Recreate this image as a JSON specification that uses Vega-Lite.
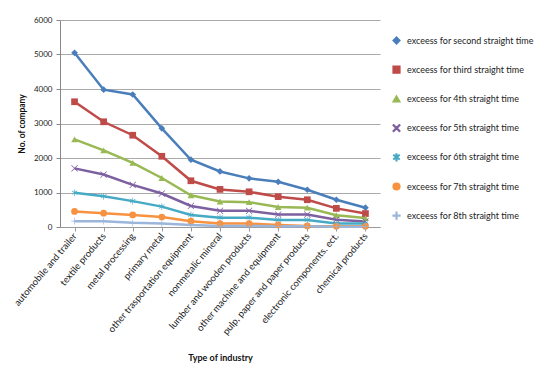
{
  "$schema": "https://vega.github.io/schema/vega-lite/v6.json",
  "width": 320,
  "height": 207,
  "autosize": {"type": "none"},
  "padding": {"left": 60, "top": 20, "right": 166, "bottom": 147},
  "background": "white",
  "config": {
    "font": "Lato",
    "view": {"stroke": null},
    "axis": {"labelFont": "Lato", "titleFont": "Lato", "labelColor": "#222", "titleColor": "#111"}
  },
  "data": {
    "values": [
      {"industry": "automobile and trailer", "series": "exceess for second straight time", "count": 5050},
      {"industry": "textile products", "series": "exceess for second straight time", "count": 3980},
      {"industry": "metal processing", "series": "exceess for second straight time", "count": 3840},
      {"industry": "primary metal", "series": "exceess for second straight time", "count": 2860},
      {"industry": "other trasportation equipment", "series": "exceess for second straight time", "count": 1950},
      {"industry": "nonmetalic mineral", "series": "exceess for second straight time", "count": 1610},
      {"industry": "lumber and wooden products", "series": "exceess for second straight time", "count": 1410},
      {"industry": "other machine and equipment", "series": "exceess for second straight time", "count": 1310},
      {"industry": "pulp, paper and paper products", "series": "exceess for second straight time", "count": 1080},
      {"industry": "electronic components. ect.", "series": "exceess for second straight time", "count": 790},
      {"industry": "chemical products", "series": "exceess for second straight time", "count": 560},

      {"industry": "automobile and trailer", "series": "exceess for third straight time", "count": 3630},
      {"industry": "textile products", "series": "exceess for third straight time", "count": 3050},
      {"industry": "metal processing", "series": "exceess for third straight time", "count": 2660},
      {"industry": "primary metal", "series": "exceess for third straight time", "count": 2050},
      {"industry": "other trasportation equipment", "series": "exceess for third straight time", "count": 1340},
      {"industry": "nonmetalic mineral", "series": "exceess for third straight time", "count": 1090},
      {"industry": "lumber and wooden products", "series": "exceess for third straight time", "count": 1020},
      {"industry": "other machine and equipment", "series": "exceess for third straight time", "count": 880},
      {"industry": "pulp, paper and paper products", "series": "exceess for third straight time", "count": 790},
      {"industry": "electronic components. ect.", "series": "exceess for third straight time", "count": 540},
      {"industry": "chemical products", "series": "exceess for third straight time", "count": 390},

      {"industry": "automobile and trailer", "series": "exceess for 4th straight time", "count": 2540},
      {"industry": "textile products", "series": "exceess for 4th straight time", "count": 2220},
      {"industry": "metal processing", "series": "exceess for 4th straight time", "count": 1860},
      {"industry": "primary metal", "series": "exceess for 4th straight time", "count": 1420},
      {"industry": "other trasportation equipment", "series": "exceess for 4th straight time", "count": 920},
      {"industry": "nonmetalic mineral", "series": "exceess for 4th straight time", "count": 740},
      {"industry": "lumber and wooden products", "series": "exceess for 4th straight time", "count": 720},
      {"industry": "other machine and equipment", "series": "exceess for 4th straight time", "count": 580},
      {"industry": "pulp, paper and paper products", "series": "exceess for 4th straight time", "count": 560},
      {"industry": "electronic components. ect.", "series": "exceess for 4th straight time", "count": 340},
      {"industry": "chemical products", "series": "exceess for 4th straight time", "count": 260},

      {"industry": "automobile and trailer", "series": "exceess for 5th straight time", "count": 1700},
      {"industry": "textile products", "series": "exceess for 5th straight time", "count": 1520},
      {"industry": "metal processing", "series": "exceess for 5th straight time", "count": 1220},
      {"industry": "primary metal", "series": "exceess for 5th straight time", "count": 970},
      {"industry": "other trasportation equipment", "series": "exceess for 5th straight time", "count": 610},
      {"industry": "nonmetalic mineral", "series": "exceess for 5th straight time", "count": 470},
      {"industry": "lumber and wooden products", "series": "exceess for 5th straight time", "count": 470},
      {"industry": "other machine and equipment", "series": "exceess for 5th straight time", "count": 360},
      {"industry": "pulp, paper and paper products", "series": "exceess for 5th straight time", "count": 360},
      {"industry": "electronic components. ect.", "series": "exceess for 5th straight time", "count": 210},
      {"industry": "chemical products", "series": "exceess for 5th straight time", "count": 160},

      {"industry": "automobile and trailer", "series": "exceess for 6th straight time", "count": 990},
      {"industry": "textile products", "series": "exceess for 6th straight time", "count": 890},
      {"industry": "metal processing", "series": "exceess for 6th straight time", "count": 750},
      {"industry": "primary metal", "series": "exceess for 6th straight time", "count": 590},
      {"industry": "other trasportation equipment", "series": "exceess for 6th straight time", "count": 350},
      {"industry": "nonmetalic mineral", "series": "exceess for 6th straight time", "count": 270},
      {"industry": "lumber and wooden products", "series": "exceess for 6th straight time", "count": 270},
      {"industry": "other machine and equipment", "series": "exceess for 6th straight time", "count": 200},
      {"industry": "pulp, paper and paper products", "series": "exceess for 6th straight time", "count": 200},
      {"industry": "electronic components. ect.", "series": "exceess for 6th straight time", "count": 100},
      {"industry": "chemical products", "series": "exceess for 6th straight time", "count": 100},

      {"industry": "automobile and trailer", "series": "exceess for 7th straight time", "count": 450},
      {"industry": "textile products", "series": "exceess for 7th straight time", "count": 400},
      {"industry": "metal processing", "series": "exceess for 7th straight time", "count": 350},
      {"industry": "primary metal", "series": "exceess for 7th straight time", "count": 290},
      {"industry": "other trasportation equipment", "series": "exceess for 7th straight time", "count": 170},
      {"industry": "nonmetalic mineral", "series": "exceess for 7th straight time", "count": 100},
      {"industry": "lumber and wooden products", "series": "exceess for 7th straight time", "count": 100},
      {"industry": "other machine and equipment", "series": "exceess for 7th straight time", "count": 60},
      {"industry": "pulp, paper and paper products", "series": "exceess for 7th straight time", "count": 30},
      {"industry": "electronic components. ect.", "series": "exceess for 7th straight time", "count": 20},
      {"industry": "chemical products", "series": "exceess for 7th straight time", "count": 20},

      {"industry": "automobile and trailer", "series": "exceess for 8th straight time", "count": 170},
      {"industry": "textile products", "series": "exceess for 8th straight time", "count": 170},
      {"industry": "metal processing", "series": "exceess for 8th straight time", "count": 120},
      {"industry": "primary metal", "series": "exceess for 8th straight time", "count": 100},
      {"industry": "other trasportation equipment", "series": "exceess for 8th straight time", "count": 60},
      {"industry": "nonmetalic mineral", "series": "exceess for 8th straight time", "count": 30},
      {"industry": "lumber and wooden products", "series": "exceess for 8th straight time", "count": 30},
      {"industry": "other machine and equipment", "series": "exceess for 8th straight time", "count": 20},
      {"industry": "pulp, paper and paper products", "series": "exceess for 8th straight time", "count": 20},
      {"industry": "electronic components. ect.", "series": "exceess for 8th straight time", "count": 10},
      {"industry": "chemical products", "series": "exceess for 8th straight time", "count": 10}
    ]
  },
  "encoding": {
    "x": {
      "field": "industry",
      "type": "nominal",
      "sort": null,
      "scale": {"type": "point", "padding": 0.5},
      "axis": {
        "title": "Type of industry",
        "titleFontSize": 9,
        "titleFontWeight": "bold",
        "titlePadding": 17,
        "labelAngle": -50,
        "labelAlign": "right",
        "labelBaseline": "middle",
        "labelFontSize": 9.5,
        "labelPadding": 3,
        "labelOverlap": false,
        "domainColor": "#999",
        "tickColor": "#999",
        "tickSize": 4,
        "grid": false
      }
    },
    "y": {
      "field": "count",
      "type": "quantitative",
      "scale": {"domain": [0, 6000]},
      "axis": {
        "title": "No.  of  company",
        "titleFontSize": 8.5,
        "titleFontWeight": "bold",
        "titlePadding": 7,
        "format": "d",
        "values": [0, 1000, 2000, 3000, 4000, 5000, 6000],
        "labelFontSize": 8,
        "labelPadding": 4,
        "tickSize": 4,
        "tickColor": "#888",
        "domainColor": "#888",
        "gridColor": "#aaaaaa",
        "gridWidth": 1
      }
    },
    "color": {
      "field": "series",
      "type": "nominal",
      "sort": null,
      "scale": {
        "domain": [
          "exceess for second straight time",
          "exceess for third straight time",
          "exceess for 4th straight time",
          "exceess for 5th straight time",
          "exceess for 6th straight time",
          "exceess for 7th straight time",
          "exceess for 8th straight time"
        ],
        "range": ["#4a7ebb", "#be4b48", "#98b954", "#7d60a0", "#46aac5", "#f69240", "#9bb5db"]
      },
      "legend": {
        "title": null,
        "orient": "none",
        "legendX": 332,
        "legendY": 16,
        "labelFont": "Lato",
        "labelFontSize": 9,
        "labelColor": "#222",
        "rowPadding": 16.2,
        "symbolSize": 45,
        "labelOffset": 6
      }
    }
  },
  "layer": [
    {
      "mark": {"type": "line", "strokeWidth": 2.5},
      "encoding": {"detail": {"field": "series"}}
    },
    {
      "mark": {"type": "point", "filled": true, "opacity": 1, "size": 45},
      "encoding": {
        "shape": {
          "field": "series",
          "type": "nominal",
          "sort": null,
          "scale": {
            "domain": [
              "exceess for second straight time",
              "exceess for third straight time",
              "exceess for 4th straight time",
              "exceess for 5th straight time",
              "exceess for 6th straight time",
              "exceess for 7th straight time",
              "exceess for 8th straight time"
            ],
            "range": [
              "diamond",
              "square",
              "triangle-up",
              "M-1,-0.85L-0.85,-1L0,-0.15L0.85,-1L1,-0.85L0.15,0L1,0.85L0.85,1L0,0.15L-0.85,1L-1,0.85L-0.15,0Z",
              "M-0.1,-1L0.1,-1L0.1,-0.25L0.75,-0.7L0.85,-0.55L0.2,-0.05L0.85,0.45L0.75,0.6L0.1,0.15L0.1,1L-0.1,1L-0.1,0.15L-0.75,0.6L-0.85,0.45L-0.2,-0.05L-0.85,-0.55L-0.75,-0.7L-0.1,-0.25Z",
              "circle",
              "M-0.1,-1L0.1,-1L0.1,-0.1L1,-0.1L1,0.1L0.1,0.1L0.1,1L-0.1,1L-0.1,0.1L-1,0.1L-1,-0.1L-0.1,-0.1Z"
            ]
          },
          "legend": null
        }
      }
    }
  ]
}
